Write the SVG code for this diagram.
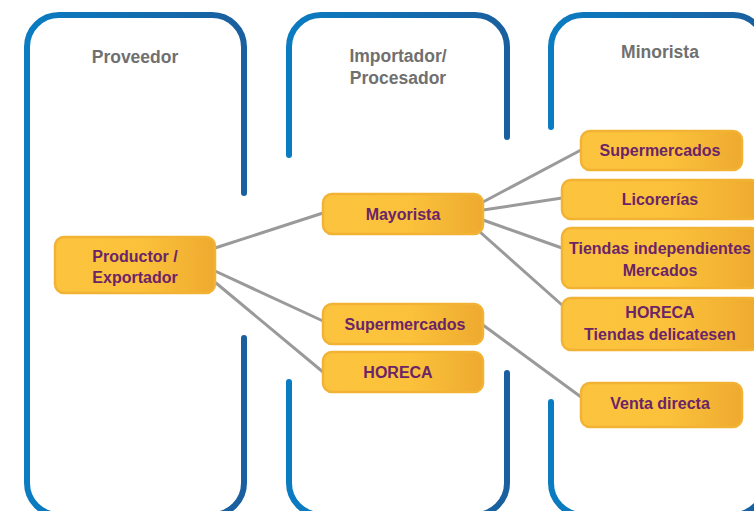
<svg xmlns="http://www.w3.org/2000/svg" width="754" height="511" viewBox="0 0 754 511">
  <defs>
    <linearGradient id="colStroke" x1="0" y1="0" x2="1" y2="0">
      <stop offset="0" stop-color="#0a7cc2"/>
      <stop offset="1" stop-color="#1a5f9e"/>
    </linearGradient>
    <linearGradient id="nodeFill" x1="0" y1="0" x2="1" y2="0">
      <stop offset="0" stop-color="#fcc43e"/>
      <stop offset="0.55" stop-color="#fbc13b"/>
      <stop offset="1" stop-color="#eeaa2f"/>
    </linearGradient>
  </defs>
  <style>
    .col { fill: none; stroke: url(#colStroke); stroke-width: 6; stroke-linecap: round; }
    .colLabel { font-family: "Liberation Sans", Arial, sans-serif; font-weight: bold; font-size: 17.5px; fill: #707070; text-anchor: middle; }
    .box { fill: url(#nodeFill); stroke: #f2b234; stroke-width: 2.5; }
    .lbl { font-family: "Liberation Sans", Arial, sans-serif; font-weight: bold; font-size: 16px; fill: #6b2468; text-anchor: middle; }
    .conn { stroke: #9a9a9a; stroke-width: 3; fill: none; stroke-linecap: round; }
  </style>

  <g id="columns">
    <path class="col" d="M244,193 L244,47 A32,32 0 0 0 212,15 L59,15 A32,32 0 0 0 27,47 L27,483 A32,32 0 0 0 59,515 L212,515 A32,32 0 0 0 244,483 L244,338"/>
    <path class="col" d="M289,155 L289,47 A32,32 0 0 1 321,15 L475,15 A32,32 0 0 1 507,47 L507,137 M507,373 L507,483 A32,32 0 0 1 475,515 L321,515 A32,32 0 0 1 289,483 L289,382"/>
    <path class="col" d="M551,127 L551,47 A32,32 0 0 1 583,15 L733,15 A32,32 0 0 1 765,47 L765,483 A32,32 0 0 1 733,515 L583,515 A32,32 0 0 1 551,483 L551,402"/>
    <text class="colLabel" x="135" y="63">Proveedor</text>
    <text class="colLabel" x="398" y="62">Importador/</text>
    <text class="colLabel" x="398" y="84">Procesador</text>
    <text class="colLabel" x="660" y="58">Minorista</text>
  </g>

  <g id="connectors">
    <line class="conn" x1="215" y1="248" x2="323" y2="213"/>
    <line class="conn" x1="215" y1="271" x2="323" y2="321"/>
    <line class="conn" x1="216" y1="283" x2="323" y2="372"/>
    <line class="conn" x1="483" y1="202" x2="581" y2="150"/>
    <line class="conn" x1="483" y1="210" x2="562" y2="198"/>
    <line class="conn" x1="483" y1="220" x2="562" y2="248"/>
    <line class="conn" x1="480" y1="232" x2="562" y2="305"/>
    <line class="conn" x1="483" y1="325" x2="581" y2="397"/>
  </g>

  <g id="n-productor">
    <rect class="box" x="55" y="237" width="160" height="56" rx="9"/>
    <text class="lbl" x="135" y="262">Productor /</text>
    <text class="lbl" x="135" y="283">Exportador</text>
  </g>
  <g id="n-mayorista">
    <rect class="box" x="323" y="194" width="160" height="40" rx="9"/>
    <text class="lbl" x="403" y="220">Mayorista</text>
  </g>
  <g id="n-supermercados-imp">
    <rect class="box" x="323" y="304" width="160" height="40" rx="9"/>
    <text class="lbl" x="405" y="330">Supermercados</text>
  </g>
  <g id="n-horeca-imp">
    <rect class="box" x="323" y="352" width="160" height="40" rx="9"/>
    <text class="lbl" x="398" y="378">HORECA</text>
  </g>
  <g id="n-supermercados-min">
    <rect class="box" x="581" y="131" width="161" height="39" rx="9"/>
    <text class="lbl" x="660" y="156">Supermercados</text>
  </g>
  <g id="n-licorerias">
    <rect class="box" x="562" y="180" width="198" height="39" rx="9"/>
    <text class="lbl" x="660" y="205">Licorerías</text>
  </g>
  <g id="n-tiendas">
    <rect class="box" x="562" y="228" width="198" height="60" rx="9"/>
    <text class="lbl" x="660" y="254">Tiendas independientes</text>
    <text class="lbl" x="660" y="276">Mercados</text>
  </g>
  <g id="n-horeca-min">
    <rect class="box" x="562" y="298" width="198" height="52" rx="9"/>
    <text class="lbl" x="660" y="318">HORECA</text>
    <text class="lbl" x="660" y="340">Tiendas delicatesen</text>
  </g>
  <g id="n-venta">
    <rect class="box" x="581" y="383" width="161" height="44" rx="9"/>
    <text class="lbl" x="660" y="409">Venta directa</text>
  </g>
</svg>
